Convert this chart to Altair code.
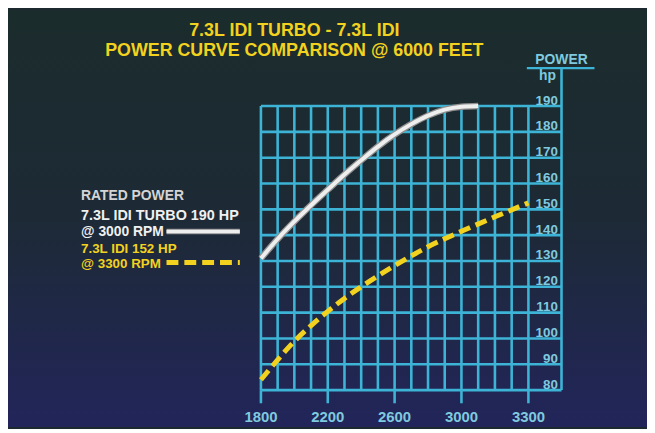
import altair as alt
import pandas as pd

# ---------------- data ----------------
rpm_turbo = [1800, 1900, 2000, 2100, 2200, 2300, 2400, 2500, 2600, 2700, 2800, 2900, 3000, 3075]
hp_turbo = [131, 138.5, 145.3, 151.6, 157.6, 163.5, 169, 174.3, 179, 183, 186.3, 188.6, 189.7, 190]

rpm_idi = [1800, 1900, 2000, 2100, 2200, 2300, 2400, 2500, 2600, 2700, 2800, 2900, 3000, 3150, 3300]
hp_idi = [84, 91.7, 98.9, 105, 110.5, 115.5, 120, 124.2, 128.2, 132, 135.5, 138.6, 141.5, 147.1, 152.5]

x_ticks = [1800, 2200, 2600, 3000, 3300]
x_tick_labels = ["1800", "2200", "2600", "3000", "3300"]
grid_rpm = [1800, 1900, 2000, 2100, 2200, 2300, 2400, 2500, 2600, 2700, 2800, 2900, 3000,
            3075, 3150, 3225, 3300]
y_ticks = [80, 90, 100, 110, 120, 130, 140, 150, 160, 170, 180, 190]

title_lines = ["7.3L IDI TURBO - 7.3L IDI", "POWER CURVE COMPARISON @ 6000 FEET"]

# ---------------- style ----------------
W, H = 645, 421
FONT = "Liberation Sans, Arial, Helvetica, sans-serif"
GRID = "#3db4d6"
LABEL = "#7fcadf"
YELLOW = "#f2d21e"
WHITE = "#eeeeee"

AXIS_X = 558.7  # right axis line (view px)

xs = alt.Scale(domain=[1800, 3000, 3300], range=[255.3, 457.7, 525.3], nice=False, zero=False)
ys = alt.Scale(domain=[80, 190], range=[383.7, 97.0], nice=False, zero=False)

one = pd.DataFrame({"a": [0]})

bg = alt.Chart(one).mark_rect(
    fill=alt.LinearGradient(
        gradient="linear", x1=0, x2=0, y1=0, y2=1,
        stops=[alt.GradientStop(color="#1b2c2c", offset=0),
               alt.GradientStop(color="#1d2a36", offset=0.5),
               alt.GradientStop(color="#22255a", offset=1)]),
    stroke=None,
).encode(x=alt.value(0), x2=alt.value(W), y=alt.value(0), y2=alt.value(H))

df_vgrid = pd.DataFrame({"rpm": grid_rpm, "lo": y_ticks[0], "hi": y_ticks[-1]})
vgrid = alt.Chart(df_vgrid).mark_rule(color=GRID, strokeWidth=2.6).encode(
    x=alt.X("rpm:Q", scale=xs, axis=None),
    y=alt.Y("lo:Q", scale=ys, axis=None),
    y2="hi:Q",
)

df_hgrid = pd.DataFrame({"hp": y_ticks, "start": grid_rpm[0]})
hgrid = alt.Chart(df_hgrid).mark_rule(color=GRID, strokeWidth=2.6).encode(
    x=alt.X("start:Q", scale=xs, axis=None),
    x2=alt.value(AXIS_X),
    y=alt.Y("hp:Q", scale=ys, axis=None),
)

df_axis = pd.DataFrame({"hp": [y_ticks[0]]})
raxis = alt.Chart(df_axis).mark_rule(color=GRID, strokeWidth=2.6).encode(
    x=alt.value(AXIS_X),
    y=alt.Y("hp:Q", scale=ys, axis=None),
    y2=alt.value(58.7),
)
power_line = alt.Chart(one).mark_rule(color=GRID, strokeWidth=2.2).encode(
    x=alt.value(523.7), x2=alt.value(592), y=alt.value(58.7)
)

df_xt = pd.DataFrame({"rpm": x_ticks, "lab": x_tick_labels, "lo": y_ticks[0]})
xtick = alt.Chart(df_xt).mark_rule(color=GRID, strokeWidth=2.6).encode(
    x=alt.X("rpm:Q", scale=xs, axis=None),
    y=alt.Y("lo:Q", scale=ys, axis=None),
    y2=alt.value(397),
)
xlab = alt.Chart(df_xt).mark_text(
    font=FONT, fontWeight="bold", fontSize=15, color=LABEL, align="center", baseline="alphabetic"
).encode(
    x=alt.X("rpm:Q", scale=xs, axis=None),
    y=alt.value(416),
    text="lab:N",
)

df_yl = pd.DataFrame({"hp": y_ticks, "lab": [str(v) for v in y_ticks]})
ylab = alt.Chart(df_yl).mark_text(
    font=FONT, fontWeight="bold", fontSize=13.5, color=LABEL, align="right", baseline="alphabetic", dy=-1.5
).encode(
    x=alt.value(555),
    y=alt.Y("hp:Q", scale=ys, axis=None),
    text="lab:N",
)

power_txt = alt.Chart(one).mark_text(
    text="POWER", font=FONT, fontWeight="bold", fontSize=14, color=LABEL, align="center", baseline="alphabetic"
).encode(x=alt.value(558.7), y=alt.value(55))
hp_txt = alt.Chart(one).mark_text(
    text="hp", font=FONT, fontWeight="bold", fontSize=14, color=LABEL, align="right", baseline="alphabetic"
).encode(x=alt.value(553), y=alt.value(71))

df_t = pd.DataFrame({"rpm": rpm_turbo, "hp": hp_turbo})
turbo_edge = alt.Chart(df_t).mark_line(color="#8f8f8f", strokeWidth=6.5, interpolate="monotone", strokeCap="butt").encode(
    x=alt.X("rpm:Q", scale=xs, axis=None), y=alt.Y("hp:Q", scale=ys, axis=None))
turbo = alt.Chart(df_t).mark_line(color=WHITE, strokeWidth=4, interpolate="monotone", strokeCap="butt").encode(
    x=alt.X("rpm:Q", scale=xs, axis=None), y=alt.Y("hp:Q", scale=ys, axis=None))

df_i = pd.DataFrame({"rpm": rpm_idi, "hp": hp_idi})
idi = alt.Chart(df_i).mark_line(color=YELLOW, strokeWidth=5, strokeDash=[12, 6], interpolate="monotone", strokeCap="butt").encode(
    x=alt.X("rpm:Q", scale=xs, axis=None), y=alt.Y("hp:Q", scale=ys, axis=None))

def txt(s, x, y, color, size=14, align="left"):
    return alt.Chart(one).mark_text(
        text=s, font=FONT, fontWeight="bold", fontSize=size, color=color, align=align, baseline="alphabetic"
    ).encode(x=alt.value(x), y=alt.value(y))

t1 = txt(title_lines[0], 289, 26, YELLOW, size=18, align="center")
t2 = txt(title_lines[1], 289, 46, YELLOW, size=18, align="center")

l1 = txt("RATED POWER", 73.7, 192, "#d4d4d4")
l2 = txt("7.3L IDI TURBO 190 HP", 73.7, 212.5, "#f0f0f0", size=14.5)
l3 = txt("@ 3000 RPM", 73.7, 228, "#f0f0f0")
l4 = txt("7.3L IDI 152 HP", 73.7, 245, YELLOW, size=13.5)
l5 = txt("@ 3300 RPM", 73.7, 260, YELLOW, size=13.5)

leg_white_edge = alt.Chart(one).mark_rule(color="#8f8f8f", strokeWidth=5.5).encode(
    x=alt.value(160), x2=alt.value(234), y=alt.value(223.7))
leg_white = alt.Chart(one).mark_rule(color=WHITE, strokeWidth=3.5).encode(
    x=alt.value(160), x2=alt.value(234), y=alt.value(223.7))
leg_yellow = alt.Chart(one).mark_rule(color=YELLOW, strokeWidth=5, strokeDash=[12, 6]).encode(
    x=alt.value(160), x2=alt.value(234), y=alt.value(255))

chart = alt.layer(
    bg, vgrid, hgrid, raxis, power_line, xtick, xlab, ylab, power_txt, hp_txt,
    turbo_edge, turbo, idi, t1, t2, l1, l2, l3, l4, l5, leg_white_edge, leg_white, leg_yellow,
).properties(
    width=W, height=H, padding=0, autosize=alt.AutoSizeParams(type="none"), background="#1c2a30"
).configure_view(stroke=None)

chart.save("out.html", embed_options={"renderer": "svg", "actions": False})
